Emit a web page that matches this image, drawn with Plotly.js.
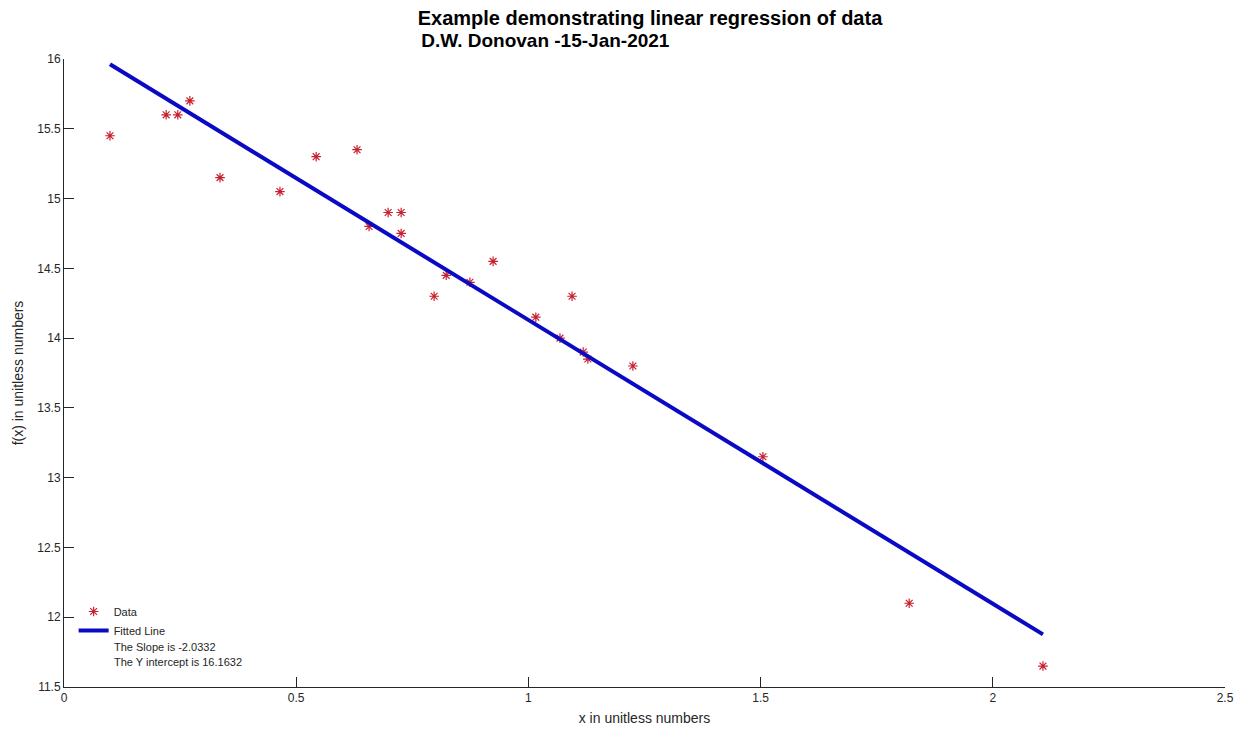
<!DOCTYPE html>
<html>
<head>
<meta charset="utf-8">
<script src="https://cdn.plot.ly/plotly-3.0.1.min.js"></script>
<style>html,body{margin:0;padding:0;background:#fff;}#chart{width:1246px;height:731px;}</style>
</head>
<body>
<div id="chart"></div>
<script>
// Data
const xData = [0.099, 0.220, 0.245, 0.271, 0.336, 0.465, 0.543, 0.631, 0.657, 0.698, 0.726, 0.726, 0.797, 0.823, 0.874, 0.924, 1.016, 1.068, 1.094, 1.118, 1.128, 1.225, 1.505, 1.820, 2.108];
const yData = [15.45, 15.60, 15.60, 15.70, 15.15, 15.05, 15.30, 15.35, 14.80, 14.90, 14.90, 14.75, 14.30, 14.45, 14.40, 14.55, 14.15, 14.00, 14.30, 13.90, 13.85, 13.80, 13.15, 12.10, 11.65];
const slope = -2.0332;
const intercept = 16.1632;
const legendNames = ["Data", "Fitted Line"];
const legendNotes = ["The Slope is -2.0332", "The Y intercept is 16.1632"];
const titleLines = ["Example demonstrating linear regression of data", " D.W. Donovan -15-Jan-2021"];
const xTickVals = [0, 0.5, 1, 1.5, 2, 2.5];
const xTickText = ["0", "0.5", "1", "1.5", "2", "2.5"];
const yTickVals = [11.5, 12, 12.5, 13, 13.5, 14, 14.5, 15, 15.5, 16];
const yTickText = ["11.5", "12", "12.5", "13", "13.5", "14", "14.5", "15", "15.5", "16"];

const xMin = Math.min(...xData), xMax = Math.max(...xData);
const fitX = [xMin, xMax];
const fitY = fitX.map(v => slope * v + intercept);

const axisColor = '#262626';
const fontFam = 'Liberation Sans, Arial, sans-serif';
const traces = [
  {x: xData, y: yData, mode: 'markers', type: 'scatter', name: legendNames[0],
   marker: {symbol: 'asterisk-open', size: 8, color: '#c8202e', line: {color: '#c8202e', width: 1.2}}},
  {x: fitX, y: fitY, mode: 'lines', type: 'scatter', name: legendNames[1],
   line: {color: '#0a0ac4', width: 4}}
];

const noteAnnots = legendNotes.map((t, i) => ({
  text: t, xref: 'paper', yref: 'paper', x: (112-64)/1161, xanchor: 'left',
  y: (687 - (647 + 15*i))/628, yanchor: 'middle', showarrow: false,
  font: {size: 11, color: axisColor, family: fontFam}
}));

const layout = {
  width: 1246, height: 731,
  margin: {l: 64, r: 21, t: 59, b: 44},
  paper_bgcolor: '#fff', plot_bgcolor: '#fff',
  font: {family: fontFam, color: axisColor},
  title: {text: '<b>' + titleLines[0] + '</b>', x: 650/1246, xanchor: 'center', y: 1 - 18/731, yanchor: 'middle',
          font: {size: 20, color: '#000', family: fontFam}},
  annotations: [
    {text: '<b>' + titleLines[1] + '</b>', xref: 'paper', yref: 'paper', x: (414-64)/1161, xanchor: 'left',
     y: 1 + (59-40)/628, yanchor: 'middle', showarrow: false,
     font: {size: 19, color: '#000', family: fontFam}}
  ].concat(noteAnnots),
  xaxis: {range: [0, 2.5], tickvals: xTickVals, ticktext: xTickText, ticks: 'inside', ticklen: 10, tickcolor: axisColor,
          showgrid: false, zeroline: false, showline: true, linecolor: axisColor, linewidth: 1, mirror: false,
          tickfont: {size: 12, color: axisColor},
          title: {text: 'x in unitless numbers', font: {size: 14, color: axisColor}, standoff: 8}},
  yaxis: {range: [11.5, 16], tickvals: yTickVals, ticktext: yTickText, ticks: 'inside', ticklen: 10, tickcolor: axisColor,
          showgrid: false, zeroline: false, showline: true, linecolor: axisColor, linewidth: 1, mirror: false,
          tickfont: {size: 12, color: axisColor},
          title: {text: 'f(x) in unitless numbers', font: {size: 14, color: axisColor}, standoff: 10}},
  showlegend: true,
  legend: {x: 0.0083, y: (687-597)/628, xanchor: 'left', yanchor: 'top', bgcolor: 'rgba(0,0,0,0)', borderwidth: 0,
           font: {size: 11, color: axisColor, family: fontFam}, tracegroupgap: 0}
};

Plotly.newPlot('chart', traces, layout, {displayModeBar: false, staticPlot: true});
</script>
</body>
</html>
